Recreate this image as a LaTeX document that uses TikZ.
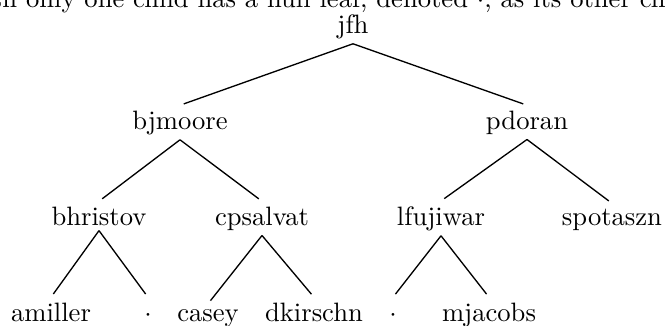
\documentclass[tikz,border=0pt]{standalone}
\begin{document}
\begin{tikzpicture}[x=0.376pt,y=-0.376pt,
  tn/.style={anchor=base,inner sep=1.8pt},
  edge/.style={draw=black,line width=0.5pt,shorten >=1.5pt}]
\useasboundingbox (0,0) rectangle (665,325);
\begin{scope}
\clip (0,0) rectangle (665,325);
\node[anchor=base west,inner sep=0pt] (cap) at (-35,7) {with only one child has a null leaf, denoted $\cdot$, as its other child.};
\end{scope}
\node[tn] (jfh) at (353,33) {jfh};
\node[tn] (bjmoore) at (180,129) {bjmoore};
\node[tn] (pdoran) at (527,129) {pdoran};
\node[tn] (bhristov) at (99,225) {bhristov};
\node[tn] (cpsalvat) at (262,225) {cpsalvat};
\node[tn] (lfujiwar) at (441,225) {lfujiwar};
\node[tn] (spotaszn) at (612,225) {spotaszn};
\node[tn] (amiller) at (51,321) {amiller};
\node[tn] (nulla) at (148,321) {$\cdot$};
\node[tn] (casey) at (208,321) {casey};
\node[tn] (dkirschn) at (314,321) {dkirschn};
\node[tn] (nullb) at (393,321) {$\cdot$};
\node[tn] (mjacobs) at (489,321) {mjacobs};
\path[edge] (jfh.south) -- (bjmoore.north);
\path[edge] (jfh.south) -- (pdoran.north);
\path[edge] (bjmoore.south) -- (bhristov.north);
\path[edge] (bjmoore.south) -- (cpsalvat.north);
\path[edge] (pdoran.south) -- (lfujiwar.north);
\path[edge] (pdoran.south) -- (spotaszn.north);
\path[edge] (bhristov.south) -- (amiller.north);
\path[edge] (bhristov.south) -- (nulla.north |- amiller.north);
\path[edge] (cpsalvat.south) -- (casey.north);
\path[edge] (cpsalvat.south) -- (dkirschn.north);
\path[edge] (lfujiwar.south) -- (nullb.north |- mjacobs.north);
\path[edge] (lfujiwar.south) -- (mjacobs.north);
\end{tikzpicture}
\end{document}
